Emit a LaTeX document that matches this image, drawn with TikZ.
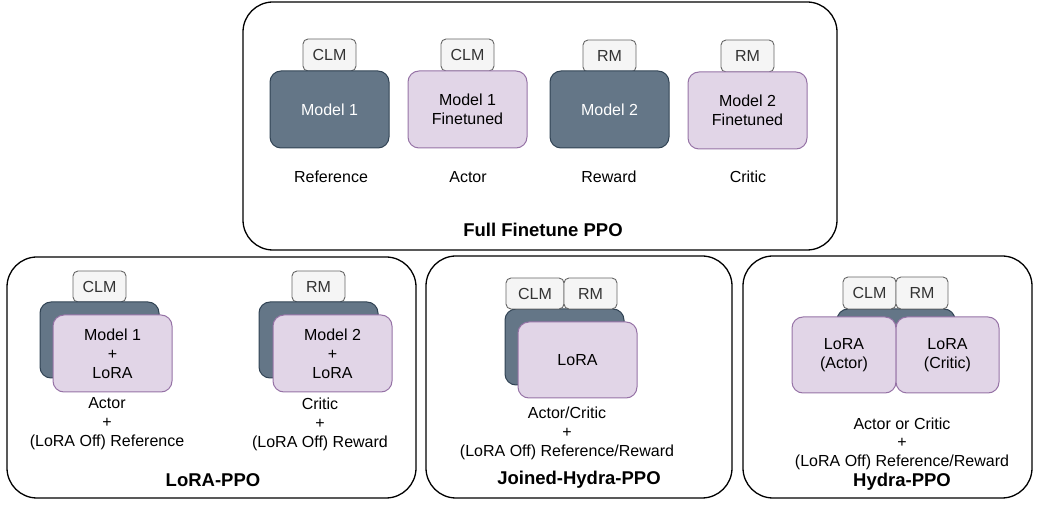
\documentclass[tikz,border=0pt]{standalone}
\usepackage{fontspec}
\setmainfont{Liberation Sans}
\definecolor{dkfill}{HTML}{647687}
\definecolor{dkline}{HTML}{314354}
\definecolor{pfill}{HTML}{E1D5E7}
\definecolor{pline}{HTML}{9673A6}
\definecolor{tfill}{HTML}{F5F5F5}
\definecolor{tline}{HTML}{666666}
\definecolor{ttext}{HTML}{333333}
\begin{document}
\begin{tikzpicture}[x=1pt,y=-1pt,
  every node/.style={font=\fontsize{16}{19}\selectfont, inner sep=0pt, align=center},
  panel/.style={draw=black, line width=1.3pt, rounded corners=30pt},
  basebox/.style={draw=dkline, fill=dkfill, line width=1pt, rounded corners=11pt, text=white, minimum width=119pt, minimum height=77pt},
  lorabox/.style={draw=pline, fill=pfill, line width=1pt, rounded corners=11pt, minimum width=119pt, minimum height=77pt},
  headtag/.style={draw=tline, fill=tfill, line width=0.9pt, rounded corners=5pt, text=ttext, minimum width=53pt, minimum height=32pt},
  lbl/.style={text=black},
  ttl/.style={font=\fontsize{18.5}{22}\selectfont\bfseries}]
\useasboundingbox (0,0) rectangle (1037,510);

% ---------- Full Finetune PPO ----------
\node[panel, minimum width=594pt, minimum height=248pt] (pfull) at (540,126) {};
\node[headtag] (t1) at (329.5,55) {CLM};
\node[basebox] (m1) at (329.5,109.5) {Model 1};
\node[headtag] (t2) at (467.5,55) {CLM};
\node[lorabox] (m1f) at (467.5,109.5) {Model 1\\Finetuned};
\node[headtag] (t3) at (609.5,56) {RM};
\node[basebox] (m2) at (609.5,109.5) {Model 2};
\node[headtag] (t4) at (747.5,56) {RM};
\node[lorabox] (m2f) at (747.5,110.5) {Model 2\\Finetuned};
\node[lbl] (l1) at (331,177) {Reference};
\node[lbl] (l2) at (468,177) {Actor};
\node[lbl] (l3) at (609,177) {Reward};
\node[lbl] (l4) at (748,177) {Critic};
\node[ttl] (tfull) at (543,230) {Full Finetune PPO};

% ---------- LoRA-PPO ----------
\node[panel, minimum width=409pt, minimum height=241pt] (plora) at (211.5,377.5) {};
\node[headtag, minimum height=31pt] (a1) at (99.5,286.5) {CLM};
\node[basebox, minimum height=76pt] (ab1) at (99.5,340) {};
\node[lorabox] (al1) at (112.5,353.5) {Model 1\\+\\LoRA};
\node[headtag, minimum height=31pt] (a2) at (318.5,286.5) {RM};
\node[basebox, minimum height=76pt] (ab2) at (318.5,340) {};
\node[lorabox] (al2) at (332.5,353.5) {Model 2\\+\\LoRA};
\node[lbl] (la1) at (107,424) {Actor\\+\\(LoRA Off) Reference};
\node[lbl] (la2) at (320,424) {Critic\\+\\(LoRA Off) Reward};
\node[ttl] (tlora) at (213,480) {LoRA-PPO};

% ---------- Joined-Hydra-PPO ----------
\node[panel, minimum width=306pt, minimum height=242pt] (pjoin) at (579,377) {};
\node[basebox, minimum height=76pt] (jb) at (564.5,347) {};
\node[headtag, minimum width=58pt, minimum height=31pt] (jt1) at (535,293.5) {CLM};
\node[headtag, minimum height=31pt] (jt2) at (590.5,293.5) {RM};
\node[lorabox, minimum height=76pt] (jl) at (577.5,360) {LoRA};
\node[lbl] (ljoin) at (567,433) {Actor/Critic\\+\\(LoRA Off) Reference/Reward};
\node[ttl] (tjoin) at (579,480) {Joined-Hydra-PPO};

% ---------- Hydra-PPO ----------
\node[panel, minimum width=289pt, minimum height=242pt] (phyd) at (887.5,377) {};
\node[basebox, minimum width=118pt, minimum height=76pt] (hb) at (896,347) {};
\node[headtag] (ht1) at (869.5,293) {CLM};
\node[headtag, minimum width=52pt] (ht2) at (922,293) {RM};
\node[lorabox, minimum width=104pt, minimum height=76pt] (hl1) at (844,355) {LoRA\\(Actor)};
\node[lorabox, minimum width=103pt, minimum height=76pt] (hl2) at (947.5,355) {LoRA\\(Critic)};
\node[lbl, font=\fontsize{16}{18.5}\selectfont] (lhyd) at (902,443.5) {Actor or Critic\\+\\(LoRA Off) Reference/Reward};
\node[ttl] (thyd) at (902,481.5) {Hydra-PPO};
\end{tikzpicture}
\end{document}
